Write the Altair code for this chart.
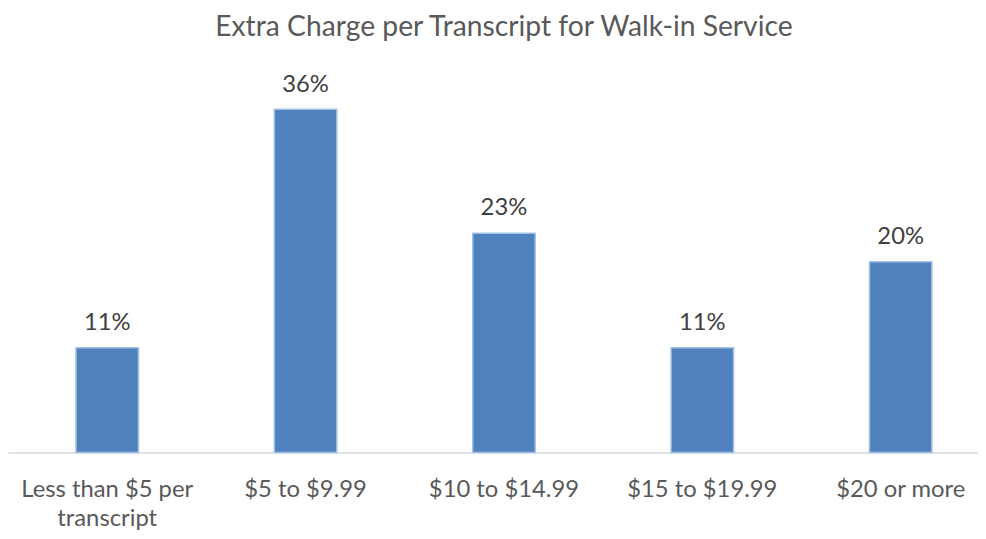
import altair as alt
import pandas as pd

categories = ["Less than $5 per transcript", "$5 to $9.99", "$10 to $14.99", "$15 to $19.99", "$20 or more"]
values = [11, 36, 23, 11, 20]
value_labels = ["11%", "36%", "23%", "11%", "20%"]

df = pd.DataFrame({"cat": categories, "val": values, "lab": value_labels})

FONT = "Lato"

x = alt.X(
    "cat:N",
    sort=categories,
    title=None,
    scale=alt.Scale(paddingInner=0.685, paddingOuter=0.2875, align=0.596),
    axis=alt.Axis(
        labelAngle=0,
        labelFont=FONT,
        labelFontSize=24,
        labelColor="#595959",
        labelPadding=25,
        labelLineHeight=30,
        labelExpr="datum.value == 'Less than $5 per transcript' ? ['Less than $5 per', 'transcript'] : datum.value",
        ticks=False,
        domainColor="#D9D9D9",
        domainWidth=1.5,
        labelLimit=300,
    ),
)
y = alt.Y(
    "val:Q",
    scale=alt.Scale(domain=[0, 40], nice=False),
    axis=None,
)

bars = alt.Chart(df).mark_bar(
    color="#4F81BD", stroke="#A3C1E6", strokeWidth=1.5
).encode(x=x, y=y)

text = alt.Chart(df).mark_text(
    font=FONT, fontSize=24, color="#404040", baseline="alphabetic", dy=-18
).encode(x=x, y=y, text="lab:N")

chart = (
    alt.layer(bars, text)
    .properties(
        width=978,
        height=384.4,
        title=alt.TitleParams(
            "Extra Charge per Transcript for Walk-in Service",
            font=FONT,
            fontSize=28.5,
            fontWeight="normal",
            color="#595959",
            anchor="middle",
            frame="group",
            baseline="alphabetic",
            offset=7,
            dx=11,
        ),
        autosize=alt.AutoSizeParams(type="none"),
        padding={"left": 0, "right": 0, "top": 61.6, "bottom": 77},
    )
    .configure_view(stroke=None)
)

chart.save("out.html", embed_options={"renderer": "svg", "actions": False})
